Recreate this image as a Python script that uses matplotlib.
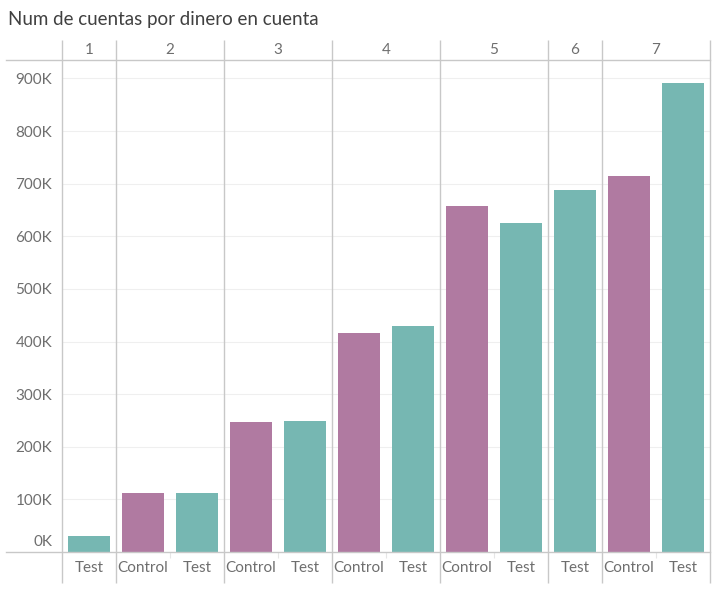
import matplotlib.pyplot as plt
import matplotlib.transforms as mtransforms
import numpy as np

# datos
paneles = ['1', '2', '3', '4', '5', '6', '7']
grupos = [['Test'], ['Control', 'Test'], ['Control', 'Test'], ['Control', 'Test'],
          ['Control', 'Test'], ['Test'], ['Control', 'Test']]
valores = [[30000], [112000, 112000], [247000, 249000], [416000, 430000],
           [658000, 625000], [688000], [715000, 892000]]

colores = {'Control': '#B07AA1', 'Test': '#76B7B2'}
gris_txt = '#6e6e6e'
gris_lin = '#c8c8c8'

plt.rcParams['font.family'] = ['Lato', 'DejaVu Sans']

W, H = 717, 591
fig = plt.figure(figsize=(W / 100, H / 100), dpi=100)
x0, x1, y0, y1 = 62, 710, 60, 552
ax = fig.add_axes([x0 / W, 1 - y1 / H, (x1 - x0) / W, (y1 - y0) / H])

n_slots = sum(len(g) for g in grupos)
ymax = 935000
ax.set_xlim(0, n_slots)
ax.set_ylim(0, ymax)

# rejilla horizontal
for v in range(100000, 1000000, 100000):
    ax.axhline(v, color='#efefef', lw=0.8, zorder=0)

xt = ax.get_xaxis_transform()
top_ext = 1 + 20 / (y1 - y0)
bot_ext = -31 / (y1 - y0)

pos = 0
for p, cats, vals in zip(paneles, grupos, valores):
    start = pos
    for c, v in zip(cats, vals):
        ax.bar(pos + 0.5, v, width=0.76, color=colores[c], zorder=2)
        ax.text(pos + 0.5, bot_ext / 2, c, transform=xt, ha='center', va='center',
                fontsize=11, color=gris_txt, clip_on=False)
        pos += 1
    # pequeñas marcas entre categorias del panel
    for k in range(start + 1, pos):
        ax.vlines(k, -6 / (y1 - y0), 0, transform=xt, color='#e6e6e6', lw=0.8, clip_on=False)
    ax.text((start + pos) / 2, 1 + 10 / (y1 - y0), p, transform=xt, ha='center', va='center',
            fontsize=11, color=gris_txt, clip_on=False)

# separadores de paneles
bordes = np.cumsum([0] + [len(g) for g in grupos])
ax.vlines(bordes, bot_ext, top_ext, transform=xt, color=gris_lin, lw=1, clip_on=False, zorder=3)

# lineas horizontales de cabecera y base
fig.add_artist(plt.Line2D([6 / W, x1 / W], [1 - y0 / H] * 2, color=gris_lin, lw=1))
fig.add_artist(plt.Line2D([6 / W, x1 / W], [1 - y1 / H] * 2, color=gris_lin, lw=1))

for s in ax.spines.values():
    s.set_visible(False)
ax.set_xticks([])
ticks = np.arange(0, 1000000, 100000)
ax.set_yticks(ticks)
ax.set_yticklabels([f'{int(t / 1000)}K' for t in ticks])
ax.tick_params(axis='y', length=0, pad=7, labelsize=11, labelcolor=gris_txt)
# la etiqueta 0K queda por encima de la linea base
lab0 = ax.get_yticklabels()[0]
lab0.set_transform(lab0.get_transform() + mtransforms.ScaledTranslation(0, 11 / 100, fig.dpi_scale_trans))

fig.text(8 / W, 1 - 20 / H, 'Num de cuentas por dinero en cuenta', fontsize=13.5,
         color='#404040', ha='left', va='center')

fig.savefig('out.png', dpi=100)
